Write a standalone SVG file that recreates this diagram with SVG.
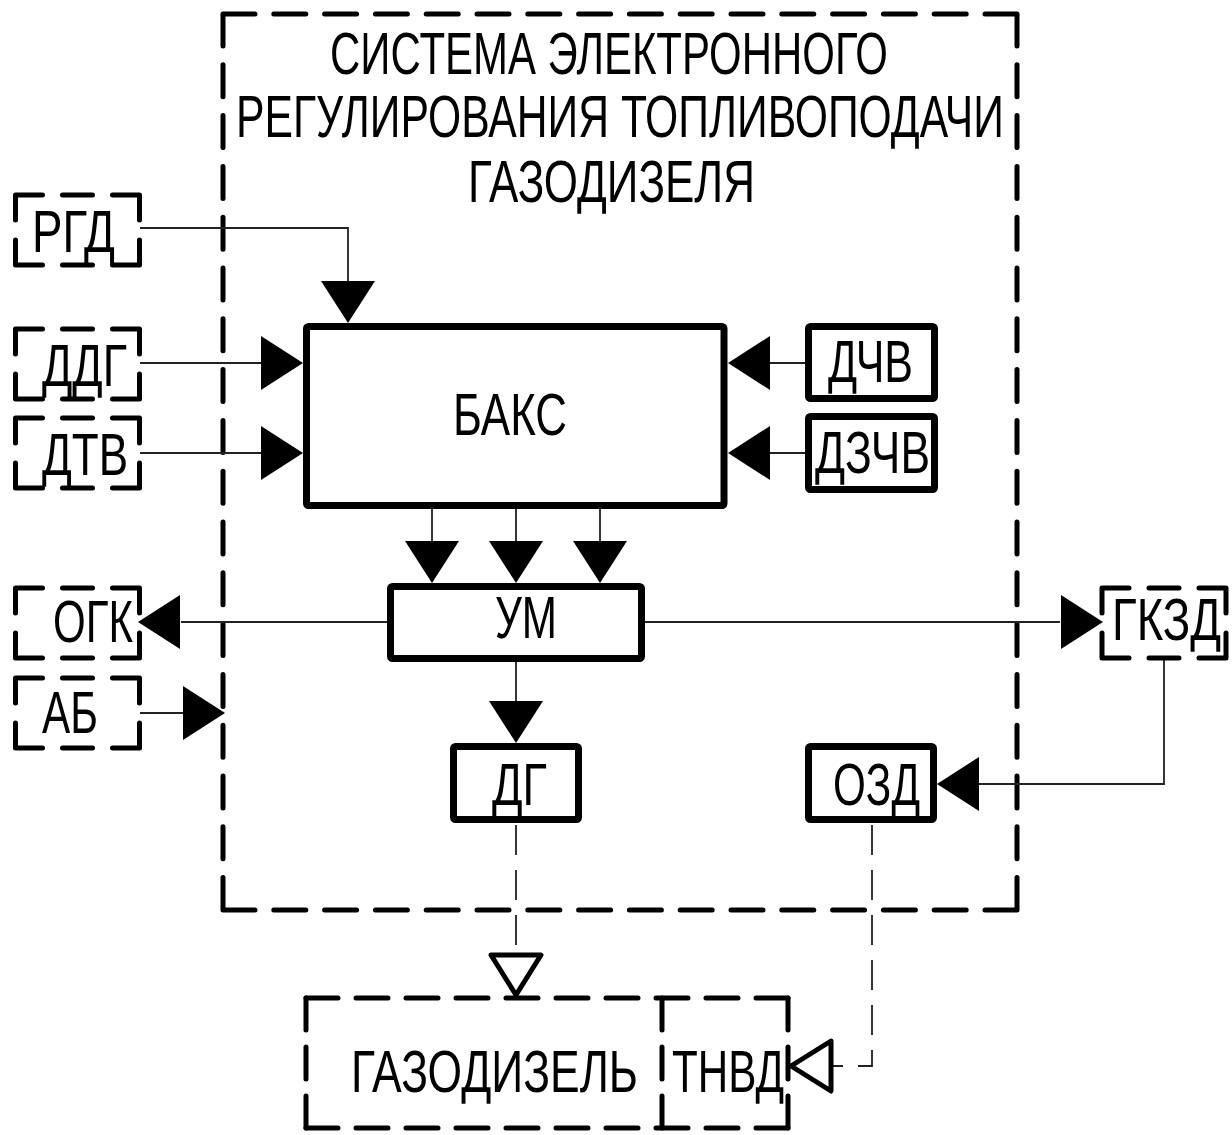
<svg xmlns="http://www.w3.org/2000/svg" width="1232" height="1135" viewBox="0 0 1232 1135">
<style>
.t{font-family:"Liberation Sans","DejaVu Sans",sans-serif;font-size:60px;fill:#000}
.solid{fill:#fff;stroke:#000;stroke-width:7;stroke-linejoin:round}
.dash{fill:none;stroke:#000;stroke-width:5;stroke-linecap:round;stroke-linejoin:round}
.dh{stroke-dasharray:32 18.8}
.db{stroke-dasharray:32 18}
.dv{stroke-dasharray:32 17}
.conn{fill:none;stroke:#222;stroke-width:1.8}
.cdash{stroke-dasharray:30 15}
.fa{fill:#000}
.ha{fill:#fff;stroke:#000;stroke-width:5;stroke-linejoin:round}
</style>
<defs>
<path id="dbox" class="dash" d="M0,25V0H27M47,0H77M97,0H124V25M0,45V70H27M47,70H77M97,70H124V45"/>
<path id="arr" d="M0,0L-42,-27L-42,27Z"/>
<path id="harr" d="M0,0L-40,-25L-40,25Z"/>
</defs>
<rect width="1232" height="1135" fill="#fff"/>

<g id="system">
<path class="dash dh" d="M223,14H1017M223,910H1017M223,14V910M1017,14V910"/>
<text class="t" x="330" y="74" textLength="558" lengthAdjust="spacingAndGlyphs">СИСТЕМА ЭЛЕКТРОННОГО</text>
<text class="t" x="236" y="137" textLength="768" lengthAdjust="spacingAndGlyphs">РЕГУЛИРОВАНИЯ ТОПЛИВОПОДАЧИ</text>
<text class="t" x="468" y="202" textLength="287" lengthAdjust="spacingAndGlyphs">ГАЗОДИЗЕЛЯ</text>
</g>

<g id="connectors">
<path class="conn" d="M140,228H348V285"/>
<path class="conn" d="M140,363H265"/>
<path class="conn" d="M140,453H265"/>
<path class="conn" d="M808,363H768"/>
<path class="conn" d="M808,453H768"/>
<path class="conn" d="M432,506V542M516,506V542M600,506V542"/>
<path class="conn" d="M390,622H181"/>
<path class="conn" d="M641,622H1060"/>
<path class="conn" d="M140,713H185"/>
<path class="conn" d="M516,658V702"/>
<path class="conn" d="M1164,658V784H976"/>
<path class="conn cdash" d="M516,825V955"/>
<path class="conn cdash" d="M872,825V1066H831"/>
<use href="#arr" class="fa" transform="translate(348,323) rotate(90)"/>
<use href="#arr" class="fa" transform="translate(303,363)"/>
<use href="#arr" class="fa" transform="translate(303,453)"/>
<use href="#arr" class="fa" transform="translate(728,363) rotate(180)"/>
<use href="#arr" class="fa" transform="translate(728,453) rotate(180)"/>
<use href="#arr" class="fa" transform="translate(432,583) rotate(90)"/>
<use href="#arr" class="fa" transform="translate(516,583) rotate(90)"/>
<use href="#arr" class="fa" transform="translate(600,583) rotate(90)"/>
<use href="#arr" class="fa" transform="translate(138,622) rotate(180)"/>
<use href="#arr" class="fa" transform="translate(225,713)"/>
<use href="#arr" class="fa" transform="translate(1103,622)"/>
<use href="#arr" class="fa" transform="translate(516,743) rotate(90)"/>
<use href="#arr" class="fa" transform="translate(937,784) rotate(180)"/>
<use href="#harr" class="ha" transform="translate(516,995) rotate(90)"/>
<use href="#harr" class="ha" transform="translate(791,1066) rotate(180)"/>
</g>

<g id="rgd"><use href="#dbox" transform="translate(15.5,195)"/><text class="t" x="32" y="252" textLength="83" lengthAdjust="spacingAndGlyphs">РГД</text></g>
<g id="ddg"><use href="#dbox" transform="translate(15.5,329)"/><text class="t" x="42" y="386" textLength="85" lengthAdjust="spacingAndGlyphs">ДДГ</text></g>
<g id="dtv"><use href="#dbox" transform="translate(15.5,418)"/><text class="t" x="42" y="475" textLength="86" lengthAdjust="spacingAndGlyphs">ДТВ</text></g>
<g id="ogk"><use href="#dbox" transform="translate(15.5,588)"/><text class="t" x="53" y="642" textLength="80" lengthAdjust="spacingAndGlyphs">ОГК</text></g>
<g id="ab"><use href="#dbox" transform="translate(15.5,678)"/><text class="t" x="42" y="733" textLength="56" lengthAdjust="spacingAndGlyphs">АБ</text></g>
<g id="gkzd"><use href="#dbox" transform="translate(1102,588)"/><text class="t" x="1112" y="640" textLength="109" lengthAdjust="spacingAndGlyphs">ГКЗД</text></g>

<g id="baks"><rect class="solid" x="306.5" y="326.5" width="417.5" height="179" rx="2"/><text class="t" x="453" y="435" textLength="114" lengthAdjust="spacingAndGlyphs">БАКС</text></g>
<g id="dchv"><rect class="solid" x="808.5" y="326.5" width="126" height="72" rx="2"/><text class="t" x="828" y="382" textLength="85" lengthAdjust="spacingAndGlyphs">ДЧВ</text></g>
<g id="dzchv"><rect class="solid" x="808.5" y="416.5" width="126" height="73" rx="2"/><text class="t" x="815" y="473" textLength="115" lengthAdjust="spacingAndGlyphs">ДЗЧВ</text></g>
<g id="um"><rect class="solid" x="390.5" y="586.5" width="251" height="72" rx="2"/><text class="t" x="495" y="638" textLength="62" lengthAdjust="spacingAndGlyphs">УМ</text></g>
<g id="dg"><rect class="solid" x="453.5" y="746.5" width="125" height="73" rx="2"/><text class="t" x="492" y="805" textLength="55" lengthAdjust="spacingAndGlyphs">ДГ</text></g>
<g id="ozd"><rect class="solid" x="808.5" y="746.5" width="125" height="73" rx="2"/><text class="t" x="833" y="805" textLength="87" lengthAdjust="spacingAndGlyphs">ОЗД</text></g>

<g id="gazodizel">
<path class="dash db" d="M306,998H788M306,1128H788"/>
<path class="dash dv" d="M306,998V1128M788,998V1128M662,998V1128"/>
<text class="t" x="351" y="1092" textLength="287" lengthAdjust="spacingAndGlyphs">ГАЗОДИЗЕЛЬ</text>
<text class="t" x="672" y="1092" textLength="112" lengthAdjust="spacingAndGlyphs">ТНВД</text>
</g>
</svg>
